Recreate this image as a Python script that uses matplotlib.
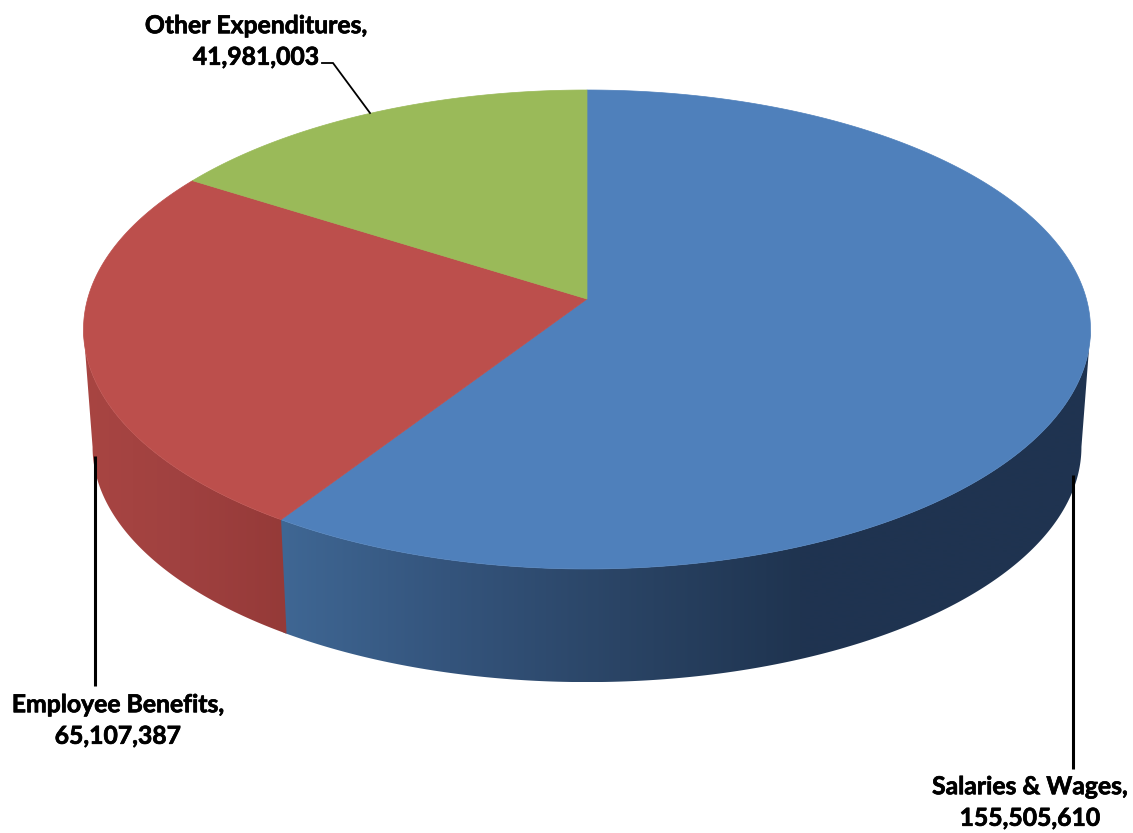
import numpy as np
import matplotlib
matplotlib.use("Agg")
import matplotlib.pyplot as plt
import matplotlib.patheffects as pe
from matplotlib.patches import Polygon

# Expenditure breakdown
categories = ["Salaries & Wages", "Employee Benefits", "Other Expenditures"]
values = [155505610, 65107387, 41981003]
top_colors = ["#4f80bb", "#bc4f4c", "#9aba59"]

# Side shading: colour stops along the horizontal pixel position
side_x = {
    "Salaries & Wages": [280, 450, 620, 800, 1090],
    "Employee Benefits": [85, 180, 285],
}
side_rgb = {
    "Salaries & Wages": ["#3f6794", "#34547c", "#2a4465", "#1f3450", "#1f3350"],
    "Employee Benefits": ["#a84542", "#a04140", "#953a38"],
}

# Perspective disc: the two planes of the pie in figure pixels
CX = 587.0
TILT = 0.1273
HALF_W = 499.4
HALF_H = 235.6
TOP_Y = 299.0
LOWER_Y = 417.0
LOWER_SCALE = 0.982

# Only the front of the rim shows, between the widest points of the disc
FRONT_START = np.pi - np.arccos(TILT)
FRONT_END = np.pi + np.arccos(TILT)


def project(theta, y0, scale=1.0):
    """Map a clockwise-from-north angle on the disc to figure pixels."""
    u, v = np.sin(theta), np.cos(theta)
    w = 1 + TILT * v
    return CX + scale * HALF_W * u / w, y0 - scale * HALF_H * v / w


fig = plt.figure(figsize=(11.33, 8.33), dpi=100, facecolor="white")
ax = fig.add_axes([0, 0, 1, 1])

fractions = np.array(values, dtype=float) / sum(values)
edges = np.concatenate([[0], np.cumsum(fractions)]) * 2 * np.pi

# Rim of each slice: a horizontal gradient clipped to the visible band
for i, name in enumerate(categories):
    start, stop = max(edges[i], FRONT_START), min(edges[i + 1], FRONT_END)
    if start >= stop:
        continue
    # the first slice runs slightly under the next one to avoid a gap at the seam
    stop_pad = stop + np.radians(0.4) if i == 0 else stop
    th = np.linspace(start, stop_pad, 400)
    xt, yt = project(th, TOP_Y)
    xb, yb = project(th, LOWER_Y, LOWER_SCALE)
    outline = np.column_stack([np.r_[xt, xb[::-1]], np.r_[yt, yb[::-1]]])
    band = Polygon(outline, closed=True, facecolor="none", edgecolor="none", zorder=2)
    ax.add_patch(band)
    xs = np.arange(70, 1101)
    rgb = np.array([matplotlib.colors.to_rgb(c) for c in side_rgb[name]])
    grad = np.column_stack([np.interp(xs, side_x[name], rgb[:, k]) for k in range(3)])[None, :, :]
    img = ax.imshow(grad, extent=(xs[0], xs[-1], outline[:, 1].max(), outline[:, 1].min()),
                    aspect="auto", interpolation="bilinear", zorder=2 + i * 0.1)
    img.set_clip_path(band)

for i, name in enumerate(categories):
    th = np.linspace(edges[i], edges[i + 1], 400)
    x, y = project(th, TOP_Y)
    pts = np.column_stack([np.r_[CX, x], np.r_[TOP_Y, y]])
    ax.add_patch(Polygon(pts, closed=True, facecolor=top_colors[i], edgecolor=top_colors[i],
                         linewidth=0.5, zorder=3))

# Leader lines
ax.plot([1073, 1073], [475, 769], color="black", lw=2.2, solid_capstyle="butt", zorder=4)
ax.plot([94.5, 94.5], [456, 686], color="black", lw=2.2, solid_capstyle="butt", zorder=4)
ax.plot([322, 333, 370], [63, 63, 113], color="black", lw=1.3, solid_joinstyle="miter", zorder=4)

# Labels: category name over its value
label_pos = {
    "Salaries & Wages": (1030, 802.5),
    "Employee Benefits": (118, 720.5),
    "Other Expenditures": (256, 41.5),
}
for name, val in zip(categories, values):
    lx, ly = label_pos[name]
    ax.text(lx, ly, f"{name},\n{val:,}", ha="center", va="center", family="Lato",
            weight="bold", fontsize=17.8, color="black", linespacing=1.45, zorder=5,
            path_effects=[pe.withStroke(linewidth=0.5, foreground="black")])

ax.set_xlim(0, 1133)
ax.set_ylim(833, 0)
ax.axis("off")

fig.savefig("out.png", dpi=100, facecolor="white")
